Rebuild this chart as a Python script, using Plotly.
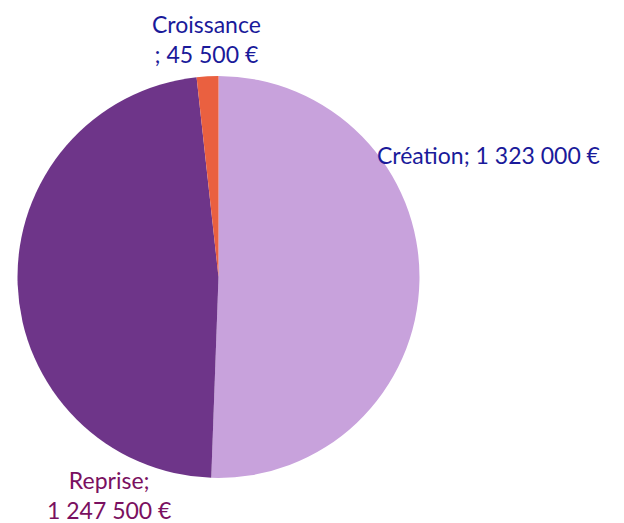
import plotly.graph_objects as go

labels = ["Création", "Reprise", "Croissance"]
values = [1323000, 1247500, 45500]
colors = ["#C8A2DC", "#6E3589", "#EA6040"]
label_texts = ["Création; 1 323 000 €", "Reprise;<br>1 247 500 €", "Croissance<br>; 45 500 €"]
label_colors = ["#1A1A9A", "#7A1060", "#1A1A9A"]

W, H = 624, 523

fig = go.Figure(go.Pie(
    labels=labels, values=values, sort=False, direction="clockwise", rotation=0,
    marker=dict(colors=colors, line=dict(width=0)),
    textinfo="none", hoverinfo="label+value", showlegend=False,
    domain=dict(x=[9 / W, 412 / W], y=[1 - 470 / H, 1 - 68 / H]),
))

pos = [
    dict(x=367, y=147, xanchor="left", yanchor="middle", align="left"),
    dict(x=101, y=518, xanchor="center", yanchor="bottom", align="center"),
    dict(x=198, y=0, xanchor="center", yanchor="top", align="center"),
]
for t, c, p in zip(label_texts, label_colors, pos):
    fig.add_annotation(text=t, x=p["x"] / W, y=1 - p["y"] / H, xref="paper", yref="paper",
                       xanchor=p["xanchor"], yanchor=p["yanchor"], align=p["align"],
                       showarrow=False, font=dict(family="Lato", size=23, color=c))

fig.update_layout(width=W, height=H, margin=dict(l=0, r=0, t=0, b=0),
                  paper_bgcolor="white", plot_bgcolor="white")
fig.write_html("out.html")
